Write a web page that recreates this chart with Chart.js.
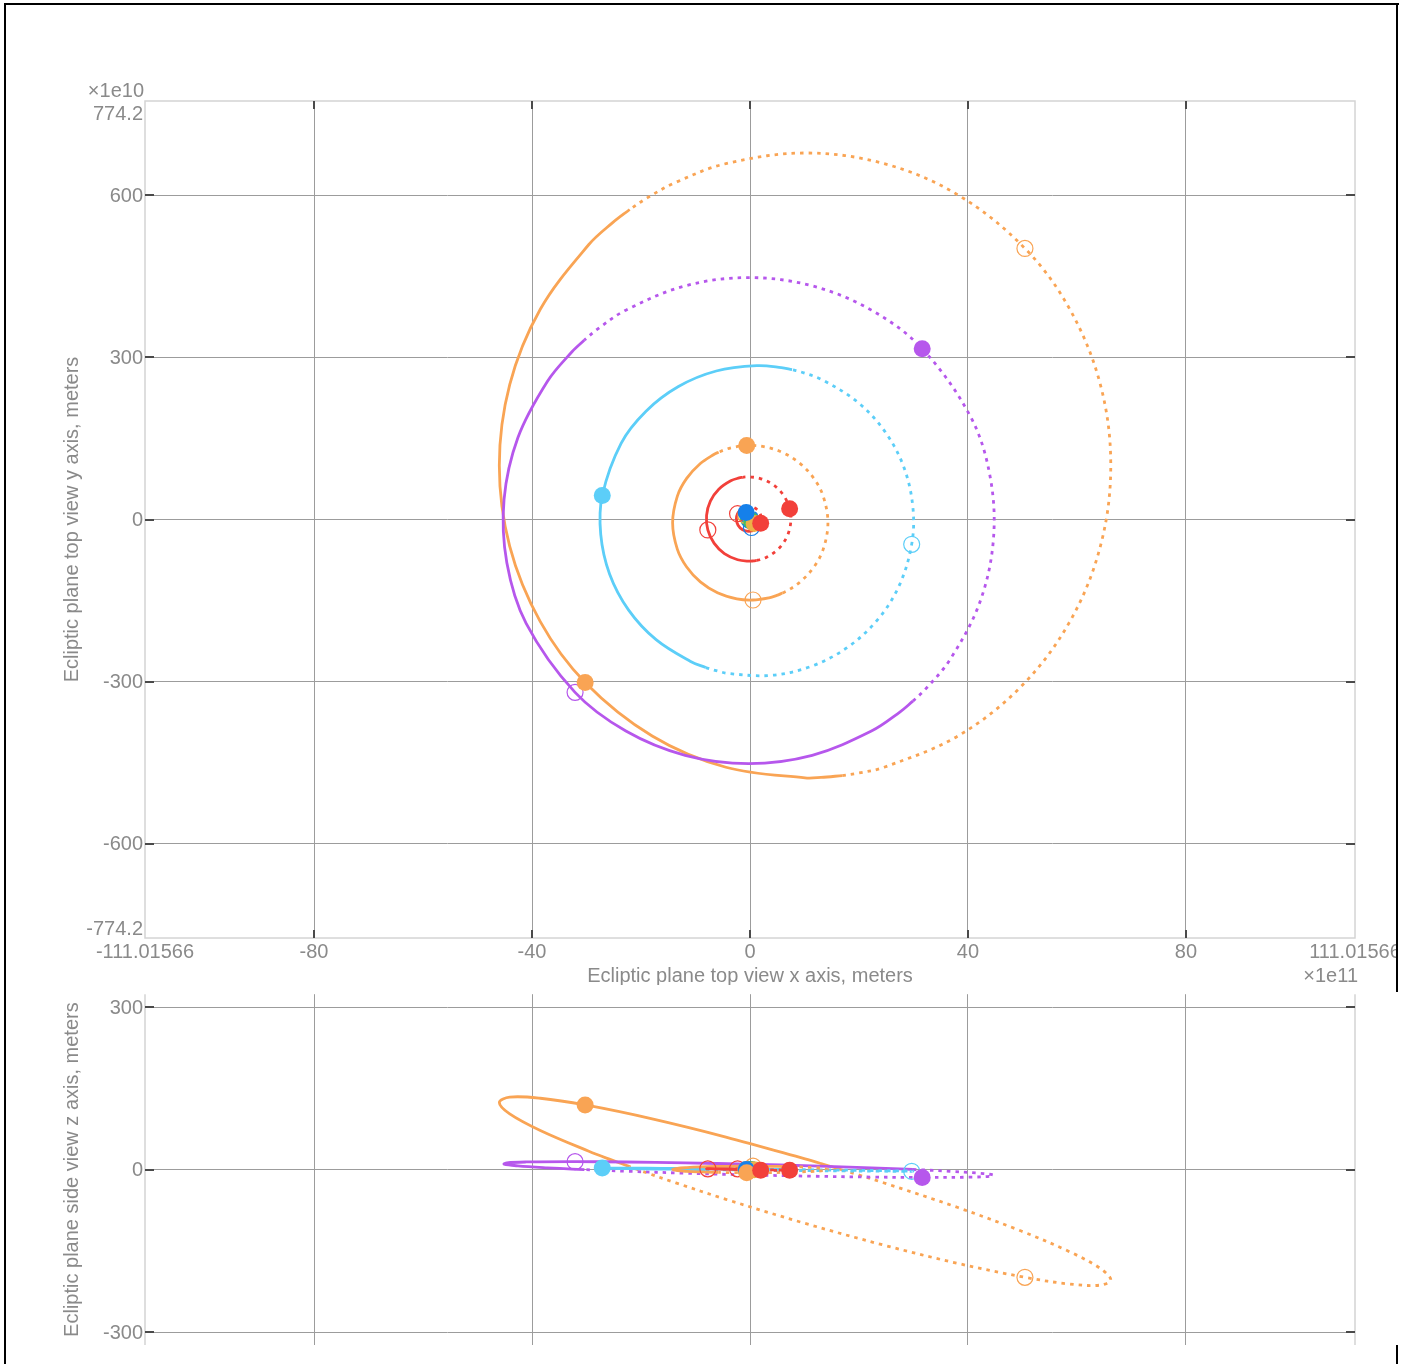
<!DOCTYPE html>
<html><head><meta charset="utf-8">
<script src="https://cdn.jsdelivr.net/npm/chart.js@4/dist/chart.umd.min.js"></script>
<style>
html,body{margin:0;padding:0;background:#fff;}
body{width:1412px;height:1364px;position:relative;overflow:hidden;}
canvas{position:absolute;left:0;}
.b{position:absolute;background:#000;}
</style></head><body>
<canvas id="topView" width="1397" height="985" style="top:0px"></canvas>
<canvas id="sideView" width="1397" height="379" style="top:985px"></canvas>
<div class="b" style="left:4px;top:3px;width:1395px;height:2px"></div>
<div class="b" style="left:4px;top:3px;width:2px;height:1361px"></div>
<div class="b" style="left:1396px;top:3px;width:2px;height:989px"></div>
<div class="b" style="left:1396px;top:1345px;width:2px;height:19px"></div>
<script>
// ===== Axis ticks / labels =====
const xRange = [-111.01566, 111.01566];          // ×1e11 m
const yRangeTop = [-774.2, 774.2];                 // ×1e10 m
const yRangeSide = [-324, 324];                    // side view z
const xTicks = [-80, -40, 0, 40, 80];
const xTickLabels = ['-80', '-40', '0', '40', '80'];
const xEdgeLabels = ['-111.01566', '111.01566'];
const yTicksTop = [-600, -300, 0, 300, 600];
const yTickLabelsTop = ['-600', '-300', '0', '300', '600'];
const yEdgeLabelsTop = ['-774.2', '774.2'];
const yTicksSide = [-300, 0, 300];
const yTickLabelsSide = ['-300', '0', '300'];
const xExpLabel = '×1e11';
const yExpLabel = '×1e10';
const xTitle = 'Ecliptic plane top view x axis, meters';
const yTitleTop = 'Ecliptic plane top view y axis, meters';
const yTitleSide = 'Ecliptic plane side view z axis, meters';

// ===== Bodies =====
const bodies = ['Mercury', 'Venus', 'Earth', 'Mars', 'Jupiter', 'Saturn', 'Uranus', 'Neptune', 'Pluto'];

// ===== Top view (x ×1e11, y ×1e10): past = solid, future = dotted =====
const plutoTopPast = [[-22.08,573.5],[-25.2,549.2],[-29.57,508.7],[-38.48,389],[-44.09,249.6],[-46.0,100],[-44.09,-49.6],[-38.48,-189],[-30.25,-301.5],[-17.95,-400.5],[-4.42,-458.3],[10.1,-478],[13.04,-477.2],[16.94,-473.7]];
const plutoTopFuture = [[16.94,-473.7],[19.84,-469.2],[24.62,-458.3],[38.15,-400.5],[49.77,-308.7],[58.68,-189],[64.29,-49.6],[66.2,100],[64.29,249.6],[58.68,389],[50.45,501.5],[38.15,600.5],[24.62,658.3],[10.1,678],[-4.42,658.3],[-13.61,623.8],[-18.79,595.5],[-22.08,573.5]];
const plutoTopNow = [[-30.25,-301.5]];
const plutoTopThen = [[50.45,501.5]];

const neptuneTopPast = [[-30.39,332],[-32.66,310.3],[-37.16,255.8],[-42.58,151.7],[-45.13,37.2],[-44.62,-80],[-41.08,-192],[-32.1,-319.8],[-22.78,-391.3],[-11.91,-436.2],[-0.25,-451.5],[11.41,-436.2],[22.28,-391.3],[27.49,-356.2],[29.89,-336]];
const neptuneTopFuture = [[29.89,-336],[32.16,-314.3],[36.66,-259.8],[42.08,-155.7],[44.63,-41.2],[44.12,76],[40.58,188],[31.6,315.8],[22.28,387.3],[11.41,432.2],[-0.25,447.5],[-11.91,432.2],[-22.78,387.3],[-27.99,352.2],[-30.39,332]];
const neptuneTopNow = [[31.6,315.8]];
const neptuneTopThen = [[-32.1,-319.8]];

const uranusTopPast = [[7.72,277.2],[5.75,281],[1.25,284.5],[-6.19,274.7],[-13.13,246],[-19.08,200.4],[-23.65,141],[-27.11,44.4],[-27.39,-27.5],[-25.77,-100.7],[-22.3,-167.1],[-17.23,-222.3],[-10.9,-262.6],[-8.11,-273.9]];
const uranusTopFuture = [[-8.11,-273.9],[-6.19,-279.7],[-3.74,-285.1],[3.76,-288.4],[11.08,-272.2],[17.74,-237.6],[23.27,-187],[27.31,-123.8],[29.67,-45.9],[29.89,22.5],[28.27,95.7],[24.8,162.1],[19.73,217.3],[13.4,257.6],[9.66,272],[7.72,277.2]];
const uranusTopNow = [[-27.11,44.4]];
const uranusTopThen = [[29.67,-45.9]];

const saturnTopPast = [[-5.75,124.6],[-6.64,120.3],[-9.11,103.5],[-11.62,76],[-13.34,42.9],[-14.2,-6],[-13.34,-54.9],[-11.62,-88],[-9.11,-115.5],[-5.97,-135.6],[-2.42,-146.8],[0.55,-148.9],[3.5,-144.8],[4.92,-140.4],[5.96,-136.1]];
const saturnTopFuture = [[5.96,-136.1],[6.96,-131.1],[9.21,-115.5],[11.72,-88],[13.44,-54.9],[14.3,-6],[13.44,42.9],[11.72,76],[9.21,103.5],[6.07,123.6],[2.52,134.8],[-0.6,136.9],[-3.4,132.8],[-4.82,128.4],[-5.75,124.6]];
const saturnTopNow = [[-0.6,136.9]];
const saturnTopThen = [[0.55,-148.9]];

const jupiterTopPast = [[-1.33,78.1],[-1.99,76.9],[-3.53,71.6],[-5.73,56],[-7.27,33.9],[-7.97,7.7],[-7.74,-19.3],[-6.6,-43.8],[-4.7,-63],[-2.26,-74.4],[-0.25,-77.1],[0.69,-76.5],[1.23,-75.7]];
const jupiterTopFuture = [[1.23,-75.7],[1.76,-74.4],[3.03,-69.8],[5.23,-54.3],[6.77,-32.1],[7.47,-5.9],[7.27,19.8],[6.1,45.6],[4.2,64.8],[1.76,76.2],[-0.25,78.9],[-0.79,78.7],[-1.33,78.1]];
const jupiterTopNow = [[7.27,19.8]];
const jupiterTopThen = [[-7.74,-19.3]];

const marsTopPast = [[-0.6,23.7],[-1.68,18.6],[-2.28,10.7],[-2.5,1],[-2.19,-10.5],[-1.35,-18.9],[-0.2,-22],[0.59,-20.6]];
const marsTopFuture = [[0.59,-20.6],[1.56,-13.8],[1.96,-6.9],[2.1,1],[1.79,12.5],[0.95,20.9],[0.2,23.7],[-0.6,23.7]];
const marsTopNow = [[1.96,-6.9]];
const marsTopThen = [[-2.28,10.7]];

const earthTopPast = [[0,15],[-0.75,13],[-1.3,7.5],[-1.5,0],[-1.3,-7.5],[-0.75,-13],[0,-15]];
const earthTopFuture = [[0,-15],[0.75,-13],[1.3,-7.5],[1.5,0],[1.3,7.5],[0.75,13],[0,15]];
const earthTopNow = [[-0.7,13]];
const earthTopThen = [[0.26,-14.8]];

const venusTopPast = [[0,10.8],[-0.54,9.4],[-0.94,5.4],[-1.08,0],[-0.94,-5.4],[-0.54,-9.4],[0,-10.8]];
const venusTopFuture = [[0,-10.8],[0.54,-9.4],[0.94,-5.4],[1.08,0],[0.94,5.4],[0.54,9.4],[0,10.8]];
const venusTopNow = [[0.76,-7.6]];
const venusTopThen = [[-0.76,7.6]];

const mercuryTopPast = [[0,4.6],[-0.33,3.3],[-0.46,0],[-0.33,-3.3],[0,-4.6]];
const mercuryTopFuture = [[0,-4.6],[0.33,-3.3],[0.46,0],[0.33,3.3],[0,4.6]];
const mercuryTopNow = [[0.33,-3.3]];
const mercuryTopThen = [[-0.33,3.3]];

// ===== Side view (x ×1e11, z ×1e10) =====
const plutoSidePast = [[-22.08,5.4],[-25.2,17.0],[-29.57,33.9],[-38.48,72.3],[-44.09,103],[-46.0,124],[-44.09,133.9],[-38.48,131.8],[-30.25,119.4],[-17.95,93.7],[-4.42,60.1],[10.1,19.7],[13.04,11.1],[16.94,-0.7]];
const plutoSideFuture = [[16.94,-0.7],[19.84,-9.6],[24.62,-24.7],[38.15,-70.1],[49.77,-113.5],[58.68,-151.9],[64.29,-182.6],[66.2,-203.6],[64.29,-213.4],[58.68,-211.4],[50.45,-199],[38.15,-173.3],[24.62,-139.7],[10.1,-99.3],[-4.42,-54.9],[-13.61,-24.5],[-18.79,-6.5],[-22.08,5.4]];
const plutoSideNow = [[-30.25,119.4]];
const plutoSideThen = [[50.45,-199]];

const neptuneSidePast = [[-30.39,0],[-32.66,1.0],[-37.16,3.3],[-42.58,6.9],[-45.13,10],[-44.62,12.5],[-41.08,14.1],[-32.1,14.7],[-22.78,14],[-11.91,12.4],[-0.25,10],[11.41,6.8],[22.28,3.2],[27.49,1.2],[29.89,0.2]];
const neptuneSideFuture = [[29.89,0.2],[32.16,-0.8],[36.66,-3.1],[42.08,-6.7],[44.63,-9.8],[44.12,-12.2],[40.58,-13.9],[31.6,-14.5],[22.28,-13.8],[11.41,-12.2],[-0.25,-9.8],[-11.91,-6.6],[-22.78,-3],[-27.99,-1.0],[-30.39,0]];
const neptuneSideNow = [[31.6,-14.5]];
const neptuneSideThen = [[-32.1,14.7]];

const uranusSidePast = [[7.72,0.1],[5.75,0.3],[1.25,0.7],[-6.19,1.4],[-13.13,2.1],[-19.08,2.5],[-23.65,2.8],[-27.11,2.8],[-27.39,2.7],[-25.77,2.3],[-22.3,1.7],[-17.23,1.1],[-10.9,0.3],[-8.11,0]];
const uranusSideFuture = [[-8.11,0],[-6.19,-0.2],[-3.74,-0.5],[3.76,-1.2],[11.08,-1.9],[17.74,-2.5],[23.27,-2.9],[27.31,-3.1],[29.67,-3.1],[29.89,-2.9],[28.27,-2.5],[24.8,-2],[19.73,-1.3],[13.4,-0.6],[9.66,-0.1],[7.72,0.1]];
const uranusSideNow = [[-27.11,2.8]];
const uranusSideThen = [[29.67,-3.1]];

const saturnSidePast = [[-5.75,-5.2],[-6.64,-5.1],[-9.11,-4.3],[-11.62,-3.2],[-13.34,-1.8],[-14.2,0.3],[-13.34,2.3],[-11.62,3.7],[-9.11,4.9],[-5.97,5.7],[-2.42,6.2],[0.55,6.3],[3.5,6.1],[4.92,5.9],[5.96,5.7]];
const saturnSideFuture = [[5.96,5.7],[6.96,5.5],[9.21,4.9],[11.72,3.7],[13.44,2.3],[14.3,0.3],[13.44,-1.8],[11.72,-3.2],[9.21,-4.3],[6.07,-5.2],[2.52,-5.7],[-0.6,-5.7],[-3.4,-5.6],[-4.82,-5.4],[-5.75,-5.2]];
const saturnSideNow = [[-0.6,-5.7]];
const saturnSideThen = [[0.55,6.3]];

const jupiterSidePast = [[-1.33,0.7],[-1.99,0.8],[-3.53,1.1],[-5.73,1.4],[-7.27,1.6],[-7.97,1.6],[-7.74,1.4],[-6.6,1.1],[-4.7,0.6],[-2.26,0.1],[-0.25,-0.4],[0.69,-0.5],[1.23,-0.6]];
const jupiterSideFuture = [[1.23,-0.6],[1.76,-0.7],[3.03,-1.0],[5.23,-1.3],[6.77,-1.5],[7.47,-1.5],[7.27,-1.4],[6.1,-1.0],[4.2,-0.5],[1.76,0],[-0.25,0.4],[-0.79,0.6],[-1.33,0.7]];
const jupiterSideNow = [[7.27,-1.4]];
const jupiterSideThen = [[-7.74,1.4]];

const marsSidePast = [[-0.6,0.4],[-1.68,1.0],[-2.28,1.4],[-2.5,1.5],[-2.19,1.3],[-1.35,0.8],[-0.2,0.1],[0.59,-0.4]];
const marsSideFuture = [[0.59,-0.4],[1.56,-0.9],[1.96,-1.2],[2.1,-1.3],[1.79,-1.1],[0.95,-0.6],[0.2,-0.1],[-0.6,0.4]];
const marsSideNow = [[1.96,-1.2]];
const marsSideThen = [[-2.28,1.4]];

const earthSidePast = [[0,0],[-0.75,0],[-1.3,0],[-1.5,0],[-1.3,0],[-0.75,0],[0,0]];
const earthSideFuture = [[0,0],[0.75,0],[1.3,0],[1.5,0],[1.3,0],[0.75,0],[0,0]];
const earthSideNow = [[-0.7,0]];
const earthSideThen = [[0.26,0]];

const venusSidePast = [[0,0],[-0.54,0.2],[-0.94,0.3],[-1.08,0.3],[-0.94,0.3],[-0.54,0.2],[0,0]];
const venusSideFuture = [[0,0],[0.54,-0.2],[0.94,-0.3],[1.08,-0.3],[0.94,-0.3],[0.54,-0.2],[0,0]];
const venusSideNow = [[0.76,-0.2]];
const venusSideThen = [[-0.76,0.2]];

const mercurySidePast = [[0,0.3],[-0.33,0.4],[-0.46,0.3],[-0.33,0],[0,-0.3]];
const mercurySideFuture = [[0,-0.3],[0.33,-0.4],[0.46,-0.3],[0.33,0],[0,0.3]];
const mercurySideNow = [[0.33,-0.4]];
const mercurySideThen = [[-0.33,0.4]];

// ===== Styles =====
const colors = {
  Mercury: '#46BE62', Venus: '#EDB048', Earth: '#1580EA', Mars: '#F2403A',
  Jupiter: '#F2403A', Saturn: '#F9A454', Uranus: '#5CCEF8', Neptune: '#B657EC', Pluto: '#F9A454'
};
const topData = {
  Mercury: [mercuryTopPast, mercuryTopFuture, mercuryTopNow, mercuryTopThen],
  Venus: [venusTopPast, venusTopFuture, venusTopNow, venusTopThen],
  Earth: [earthTopPast, earthTopFuture, earthTopNow, earthTopThen],
  Mars: [marsTopPast, marsTopFuture, marsTopNow, marsTopThen],
  Jupiter: [jupiterTopPast, jupiterTopFuture, jupiterTopNow, jupiterTopThen],
  Saturn: [saturnTopPast, saturnTopFuture, saturnTopNow, saturnTopThen],
  Uranus: [uranusTopPast, uranusTopFuture, uranusTopNow, uranusTopThen],
  Neptune: [neptuneTopPast, neptuneTopFuture, neptuneTopNow, neptuneTopThen],
  Pluto: [plutoTopPast, plutoTopFuture, plutoTopNow, plutoTopThen]
};
const sideData = {
  Mercury: [mercurySidePast, mercurySideFuture, mercurySideNow, mercurySideThen],
  Venus: [venusSidePast, venusSideFuture, venusSideNow, venusSideThen],
  Earth: [earthSidePast, earthSideFuture, earthSideNow, earthSideThen],
  Mars: [marsSidePast, marsSideFuture, marsSideNow, marsSideThen],
  Jupiter: [jupiterSidePast, jupiterSideFuture, jupiterSideNow, jupiterSideThen],
  Saturn: [saturnSidePast, saturnSideFuture, saturnSideNow, saturnSideThen],
  Uranus: [uranusSidePast, uranusSideFuture, uranusSideNow, uranusSideThen],
  Neptune: [neptuneSidePast, neptuneSideFuture, neptuneSideNow, neptuneSideThen],
  Pluto: [plutoSidePast, plutoSideFuture, plutoSideNow, plutoSideThen]
};
// marker stacking: lower order drawn on top
const pointOrder = {Mars: 0, Earth: 1, Venus: 2, Mercury: 3, Jupiter: 0, Saturn: 0, Uranus: 0, Neptune: 0, Pluto: 0};

const xy = arr => arr.map(p => ({x: p[0], y: p[1]}));

function buildDatasets(src) {
  const out = [];
  bodies.forEach(name => {
    const [past, future, now, then] = src[name];
    const col = colors[name];
    out.push({label: name + ' path', data: xy(past), showLine: true, borderColor: col, borderWidth: 2.8,
      pointRadius: 0, tension: 0.35, order: 10});
    out.push({label: name + ' future', data: xy(future), showLine: true, borderColor: col, borderWidth: 2.8,
      borderDash: [3.5, 5], pointRadius: 0, tension: 0.35, order: 10});
    out.push({label: name + ' then', data: xy(then), showLine: false, pointRadius: 8,
      pointBackgroundColor: 'rgba(255,255,255,0)', pointBorderColor: col, pointBorderWidth: 1.2, order: 6 + pointOrder[name]});
    out.push({label: name + ' now', data: xy(now), showLine: false, pointRadius: 8.5,
      pointBackgroundColor: col, pointBorderColor: col, pointBorderWidth: 0, order: pointOrder[name]});
  });
  return out;
}

const FONT = '20px "Liberation Sans", Arial, Helvetica, sans-serif';
const TXT = '#8a8a8a';

const decor = {
  id: 'decor',
  afterDraw(chart, args, opts) {
    const c = chart.ctx, a = chart.chartArea, xs = chart.scales.x, ys = chart.scales.y;
    c.save();
    c.strokeStyle = '#d4d4d4';
    c.lineWidth = 1.5;
    if (opts.kind === 'top') {
      c.strokeRect(a.left, a.top, a.right - a.left, a.bottom - a.top);
    } else {
      c.beginPath();
      c.moveTo(a.left, a.top); c.lineTo(a.left, a.bottom);
      c.moveTo(a.right, a.top); c.lineTo(a.right, a.bottom);
      c.stroke();
    }
    c.fillStyle = '#4a4a4a';
    const yT = opts.kind === 'top' ? yTicksTop : yTicksSide;
    const yL = opts.kind === 'top' ? yTickLabelsTop : yTickLabelsSide;
    yT.forEach(v => {
      const py = Math.round(ys.getPixelForValue(v));
      c.fillRect(a.left, py - 1, 9, 2);
      c.fillRect(a.right - 9, py - 1, 9, 2);
    });
    if (opts.kind === 'top') {
      xTicks.forEach(v => {
        const px = Math.round(xs.getPixelForValue(v));
        c.fillRect(px - 1, a.top, 2, 8);
        c.fillRect(px - 1, a.bottom - 8, 2, 8);
      });
    }
    c.font = FONT;
    c.fillStyle = TXT;
    c.textBaseline = 'alphabetic';
    c.textAlign = 'right';
    yT.forEach((v, i) => {
      c.fillText(yL[i], a.left - 2, ys.getPixelForValue(v) + 6.5);
    });
    if (opts.kind === 'top') {
      c.fillText(yEdgeLabelsTop[1], a.left - 2, a.top + 19);
      c.fillText(yEdgeLabelsTop[0], a.left - 2, a.bottom - 3);
      c.fillText(yExpLabel, a.left - 1, a.top - 4);
      c.fillText(xExpLabel, a.right + 3, a.bottom + 44);
      c.textAlign = 'center';
      xTicks.forEach((v, i) => c.fillText(xTickLabels[i], xs.getPixelForValue(v), a.bottom + 20));
      c.fillText(xEdgeLabels[0], xs.getPixelForValue(xRange[0]), a.bottom + 20);
      c.fillText(xEdgeLabels[1], xs.getPixelForValue(xRange[1]), a.bottom + 20);
      c.fillText(xTitle, (a.left + a.right) / 2, a.bottom + 44);
    }
    c.textAlign = 'center';
    c.translate(78, (a.top + a.bottom) / 2);
    c.rotate(-Math.PI / 2);
    c.fillText(opts.kind === 'top' ? yTitleTop : yTitleSide, 0, 0);
    c.restore();
  }
};

function makeOptions(kind, yRange, yTicks, padding) {
  return {
    responsive: false,
    animation: false,
    devicePixelRatio: 1,
    events: [],
    layout: {padding: padding},
    plugins: {legend: {display: false}, tooltip: {enabled: false}, decor: {kind: kind}},
    scales: {
      x: {type: 'linear', min: xRange[0], max: xRange[1],
        afterBuildTicks: s => { s.ticks = xTicks.map(v => ({value: v})); },
        grid: {color: '#9c9c9c', lineWidth: 1, drawTicks: false},
        border: {display: false}, ticks: {display: false}},
      y: {type: 'linear', min: yRange[0], max: yRange[1],
        afterBuildTicks: s => { s.ticks = yTicks.map(v => ({value: v})); },
        grid: {color: '#9c9c9c', lineWidth: 1, drawTicks: false},
        border: {display: false}, ticks: {display: false}}
    }
  };
}

new Chart(document.getElementById('topView'), {
  type: 'scatter',
  data: {datasets: buildDatasets(topData)},
  options: makeOptions('top', yRangeTop, yTicksTop, {left: 145, top: 101, right: 42, bottom: 47}),
  plugins: [decor]
});
new Chart(document.getElementById('sideView'), {
  type: 'scatter',
  data: {datasets: buildDatasets(sideData)},
  options: makeOptions('side', yRangeSide, yTicksSide, {left: 145, top: 8, right: 42, bottom: 19}),
  plugins: [decor]
});
</script>
</body></html>
